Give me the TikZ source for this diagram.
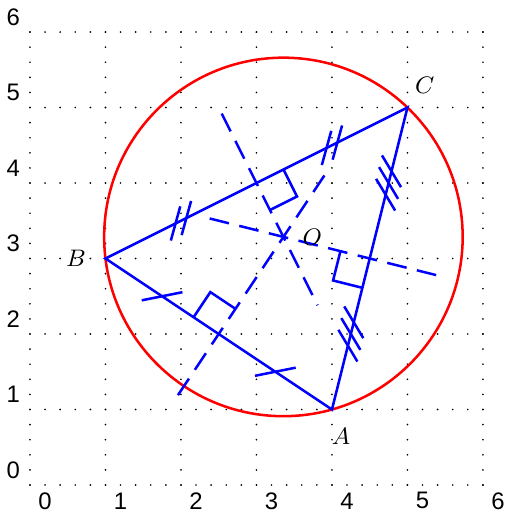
\documentclass[tikz,border=0pt]{standalone}
\usepackage{fontspec}
\setsansfont{Liberation Sans}
\usetikzlibrary{calc}

\begin{document}
\begin{tikzpicture}[
    every node/.style={font=\fontsize{9}{11}\selectfont},
    gridline/.style={line width=0.7pt, line cap=round, dash pattern=on 0pt off 5.69pt},
    side/.style={blue, line width=0.95pt},
    bisect/.style={blue, line width=0.95pt, dash pattern=on 7.5pt off 4pt},
    ticksign/.style={blue, line width=0.95pt}
]
    \useasboundingbox (-0.397,-0.424) rectangle (6.291,6.424);
    % dotted grid and numbers
    \foreach \i in {0,...,6} {
        \draw[gridline] (\i,0) -- (\i,6);
        \draw[gridline] (0,\i) -- (6,\i);
        \node (xl\i) at (\i+0.2,-0.21) {\sffamily\i};
        \node (yl\i) at (-0.22,\i+0.2) {\sffamily\i};
    }
    \coordinate (A) at (4,1);
    \coordinate (B) at (1,3);
    \coordinate (C) at (5,5);
    \coordinate (O) at (3.3571,3.2857);
    \coordinate (mAB) at ($(A)!0.5!(B)$);
    \coordinate (mBC) at ($(B)!0.5!(C)$);
    \coordinate (mCA) at ($(C)!0.5!(A)$);
    % circumcircle
    \draw[red, line width=0.95pt] (O) circle (2.3744);
    \draw[side] (A) -- (B) -- (C) -- cycle;
    % perpendicular bisectors
    \draw[bisect] ($(mAB)+(-0.54,-0.81)$) -- ($(mAB)+(1.46,2.19)$);
    \draw[bisect] ($(mBC)+(-0.46,0.92)$) -- ($(mBC)+(0.81,-1.62)$);
    \draw[bisect] ($(mCA)+(-2.12,0.53)$) -- ($(mCA)+(0.98,-0.245)$);
    % right angles
    \coordinate (rAB1) at ($(mAB)!0.4cm!(B)$);
    \coordinate (rAB2) at ($(mAB)!0.4cm!(O)$);
    \coordinate (rBC1) at ($(mBC)!0.4cm!(C)$);
    \coordinate (rBC2) at ($(mBC)!0.4cm!(O)$);
    \coordinate (rCA1) at ($(mCA)!0.4cm!(A)$);
    \coordinate (rCA2) at ($(mCA)!0.4cm!(O)$);
    \draw[side] (rAB1) -- ($(rAB1)+(rAB2)-(mAB)$) -- (rAB2);
    \draw[side] (rBC1) -- ($(rBC1)+(rBC2)-(mBC)$) -- (rBC2);
    \draw[side] (rCA1) -- ($(rCA1)+(rCA2)-(mCA)$) -- (rCA2);
    % equal halves
    \foreach \p in {(1.75,2.5),(3.25,1.5)}
        \draw[ticksign, shift={\p}, rotate=-33.69] (0,0) ++(225:0.275) -- ++(45:0.55);
    \foreach \p in {(2,3.5),(4,4.5)}
        \foreach \s in {-0.08,0.08}
            \draw[ticksign, shift={\p}, rotate=26.57] (\s,0) ++(228:0.235) -- ++(48:0.47);
    \foreach \p in {(4.75,4),(4.25,2)}
        \foreach \s in {-0.16,0,0.16}
            \draw[ticksign, shift={\p}, rotate=-104.04] (\s,0) ++(225:0.245) -- ++(45:0.49);
    % labels
    \node (lA) at (4.12,0.64) {$A$};
    \node (lB) at (0.61,3.0) {$B$};
    \node (lC) at (5.23,5.30) {$C$};
    \node (lO) at (3.74,3.28) {$O$};
\end{tikzpicture}
\end{document}
